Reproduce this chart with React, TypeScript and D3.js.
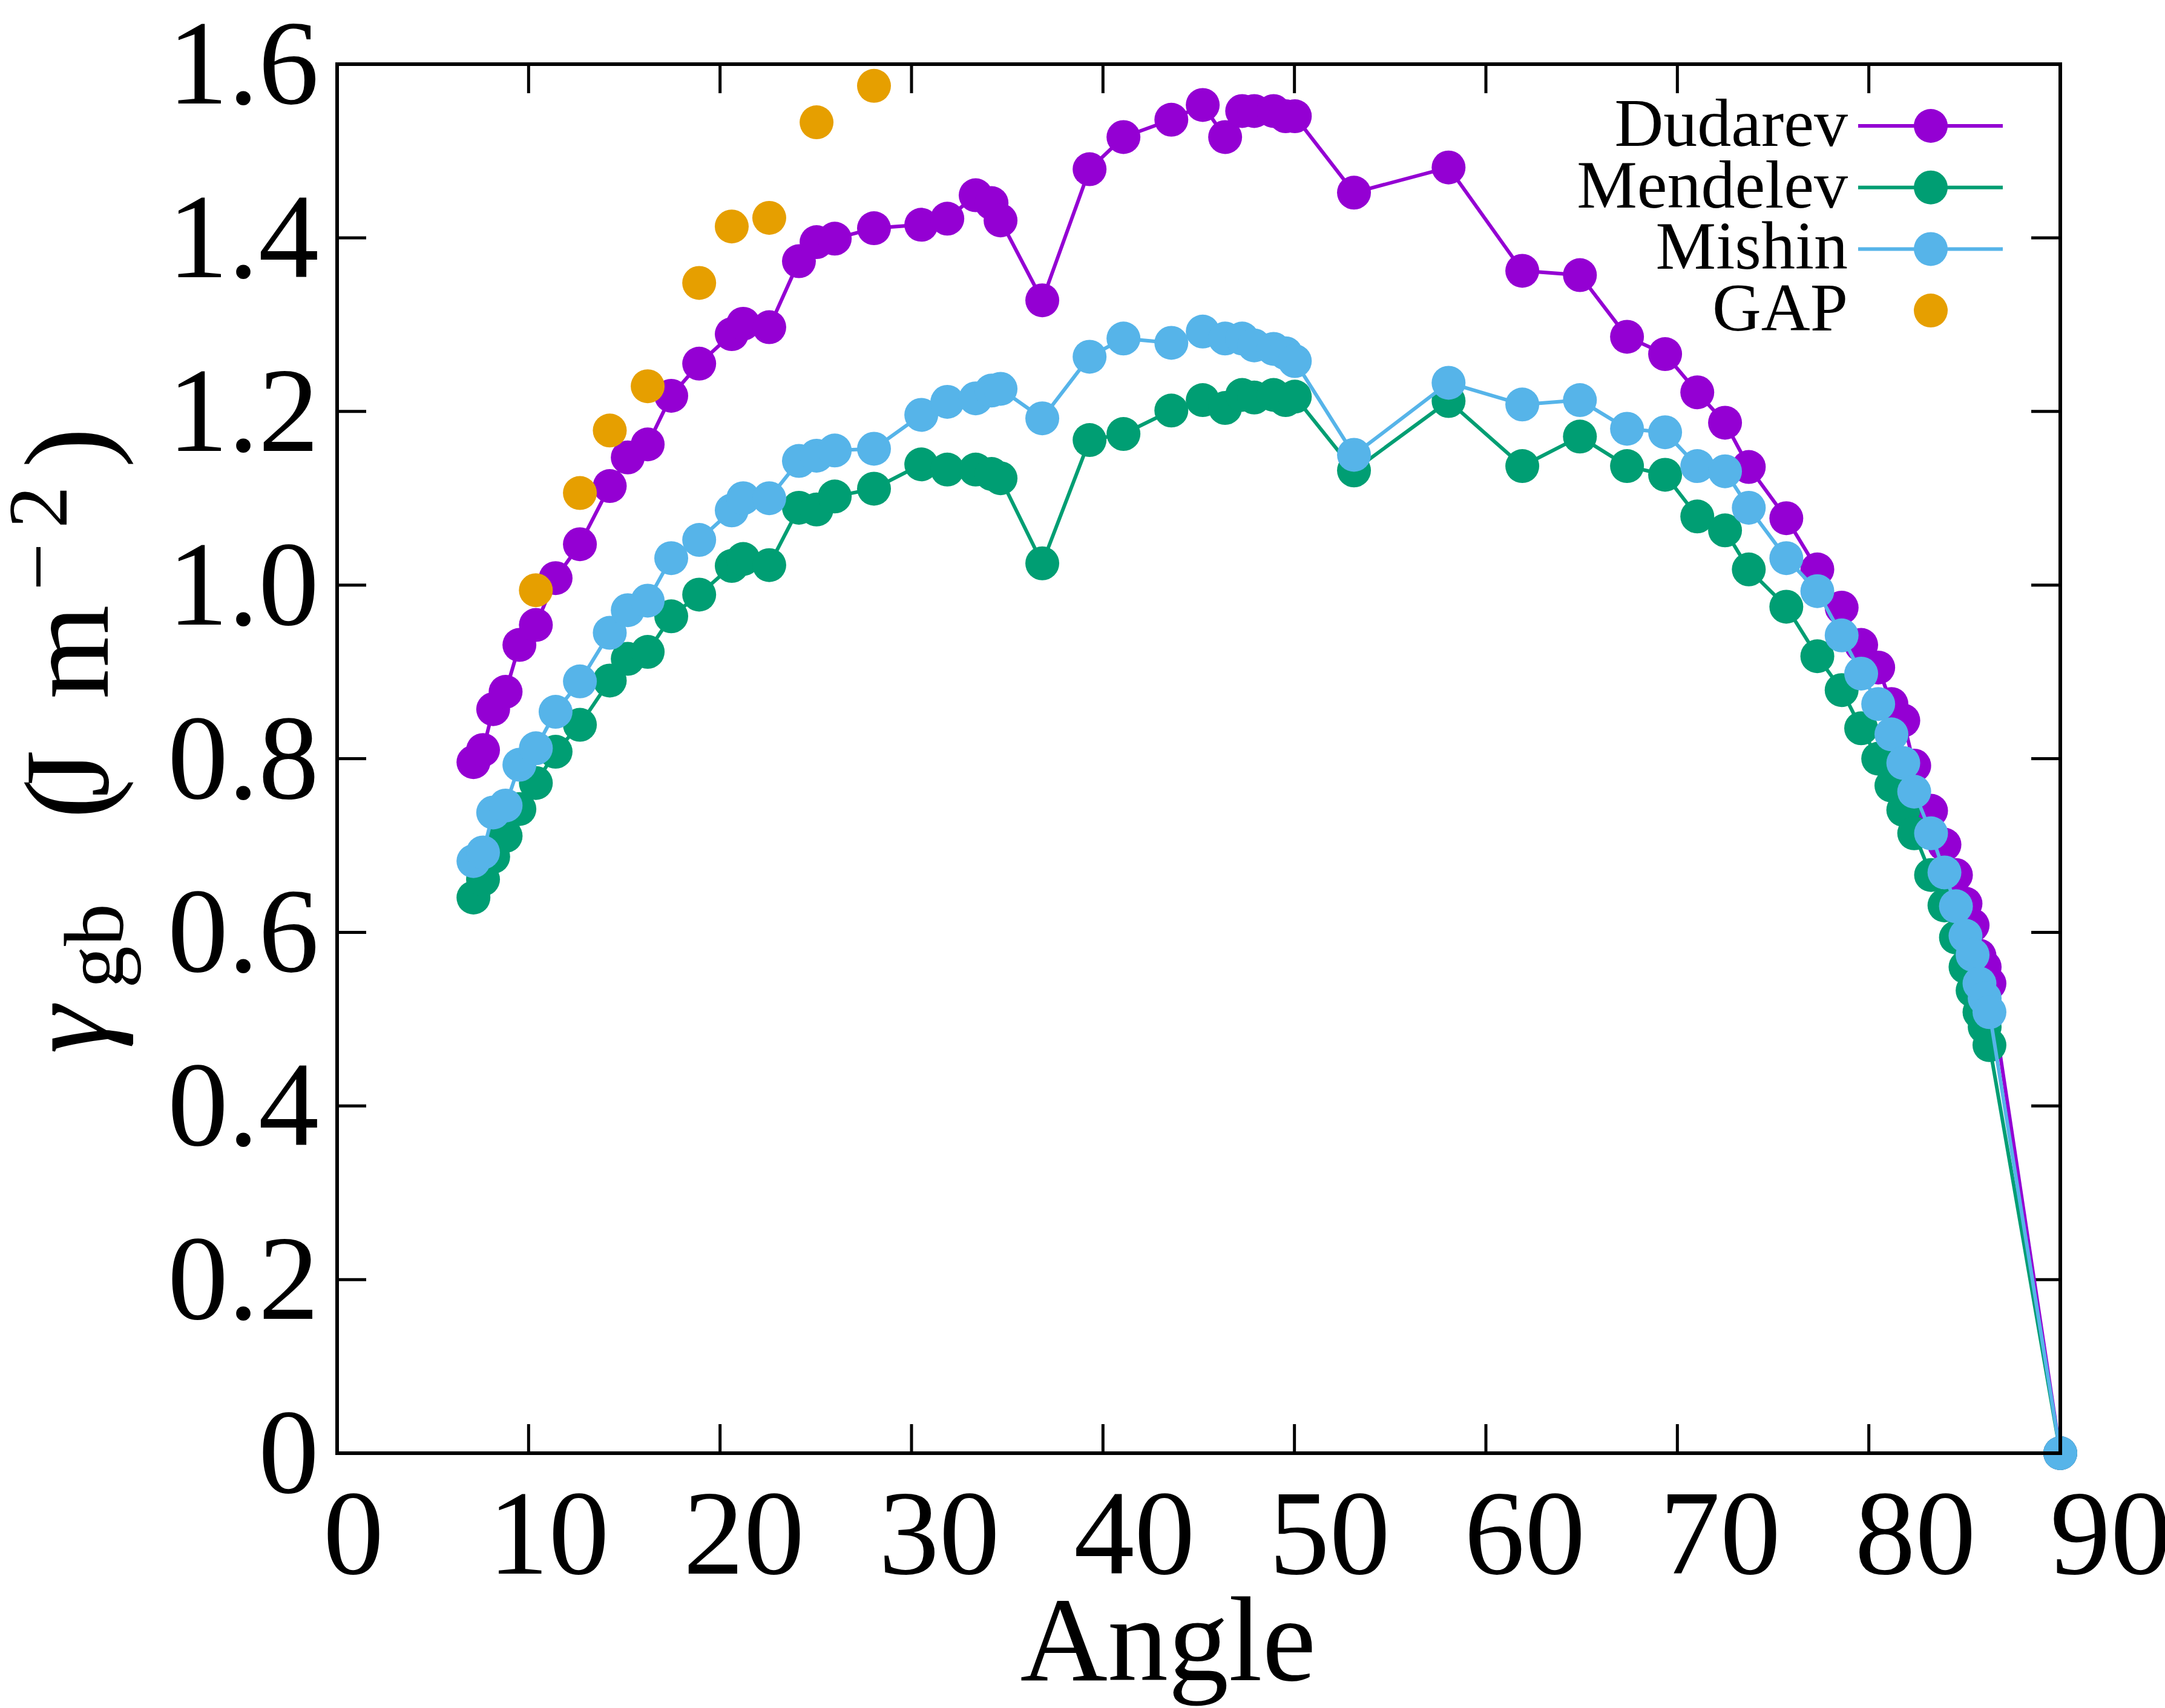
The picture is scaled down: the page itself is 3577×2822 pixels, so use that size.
import React, { useEffect } from "react";
import * as d3 from "d3";

// ---- data ----
const angles = [
  7.12, 7.62, 8.15, 8.8, 9.52, 10.38, 11.41, 12.68, 14.24, 15.18, 16.22, 17.45, 18.91, 20.61, 21.21,
  22.57, 24.12, 25.04, 25.99, 28.04, 30.51, 31.87, 33.35, 34.18, 34.65, 36.83, 39.3, 41.07, 43.57,
  45.21, 46.38, 47.27, 47.9, 48.91, 49.54, 50.02, 53.11, 58.05, 61.9, 64.91, 67.37, 69.36, 71.04,
  72.49, 73.73, 75.69, 77.31, 78.58, 79.6, 80.49, 81.18, 81.8, 82.37, 83.25, 83.95, 84.55, 85.05,
  85.42, 85.78, 86.05, 86.3, 90,
];

const dudarev = [
  0.796, 0.81, 0.857, 0.877, 0.931, 0.954, 1.008, 1.047, 1.114, 1.147, 1.162, 1.218, 1.255, 1.289, 1.301,
  1.297, 1.373, 1.395, 1.399, 1.411, 1.415, 1.422, 1.449, 1.44, 1.42, 1.328, 1.479, 1.516, 1.536,
  1.553, 1.516, 1.546, 1.546, 1.546, 1.54, 1.54, 1.452, 1.481, 1.362, 1.357, 1.286, 1.266, 1.222,
  1.187, 1.136, 1.077, 1.018, 0.974, 0.931, 0.905, 0.863, 0.844, 0.792, 0.74, 0.701, 0.666, 0.633,
  0.608, 0.573, 0.56, 0.541, 0,
];

const mendelev = [
  0.64, 0.661, 0.687, 0.711, 0.742, 0.772, 0.808, 0.839, 0.89, 0.915, 0.923, 0.964, 0.989, 1.022, 1.03,
  1.023, 1.089, 1.087, 1.102, 1.111, 1.139, 1.133, 1.133, 1.128, 1.123, 1.025, 1.167, 1.174, 1.201,
  1.213, 1.204, 1.219, 1.216, 1.219, 1.213, 1.217, 1.132, 1.212, 1.137, 1.171, 1.137, 1.127, 1.079,
  1.063, 1.018, 0.975, 0.918, 0.879, 0.835, 0.8, 0.769, 0.741, 0.714, 0.666, 0.631, 0.594, 0.56,
  0.533, 0.508, 0.491, 0.47, 0,
];

const mishin = [
  0.682, 0.692, 0.738, 0.746, 0.793, 0.812, 0.854, 0.889, 0.945, 0.971, 0.982, 1.031, 1.052, 1.086, 1.1,
  1.1, 1.143, 1.149, 1.155, 1.157, 1.196, 1.211, 1.215, 1.224, 1.226, 1.192, 1.263, 1.284, 1.279,
  1.292, 1.284, 1.284, 1.276, 1.272, 1.267, 1.258, 1.15, 1.233, 1.208, 1.213, 1.18, 1.176, 1.137,
  1.131, 1.089, 1.031, 0.993, 0.942, 0.898, 0.863, 0.828, 0.795, 0.762, 0.714, 0.669, 0.63, 0.596,
  0.574, 0.541, 0.524, 0.508, 0,
];

const gapAngles = [10.38, 12.68, 14.24, 16.22, 18.91, 20.61, 22.57, 25.04, 28.04];
const gapValues = [0.994, 1.106, 1.178, 1.229, 1.348, 1.413, 1.423, 1.533, 1.575];

const xTicks = [0, 10, 20, 30, 40, 50, 60, 70, 80, 90];
const yTicks = [0, 0.2, 0.4, 0.6, 0.8, 1.0, 1.2, 1.4, 1.6];
const yTickLabels = ["0", "0.2", "0.4", "0.6", "0.8", "1.0", "1.2", "1.4", "1.6"];

const seriesNames = ["Dudarev", "Mendelev", "Mishin", "GAP"];
const seriesColors = ["#9400D3", "#009E73", "#56B4E9", "#E69F00"];

// ---- layout ----
const W = 3577;
const H = 2822;
const PL = 557, PR = 3404, PT = 106, PB = 2401;
const FONT = "'Liberation Serif', 'DejaVu Serif', serif";
const R = 28;
const LW = 6;
const TICK = 48;

export default function App() {
  useEffect(() => {
    document.body.style.margin = "0";
  }, []);

  const x = d3.scaleLinear().domain([0, 90]).range([PL, PR]);
  const y = d3.scaleLinear().domain([0, 1.6]).range([PB, PT]);
  // tick labels in the reference are spread slightly wider than the ticks
  const xLab = d3.scaleLinear().domain([0, 90]).range([584, 3487]);

  const line = d3
    .line<[number, number]>()
    .x((d) => x(d[0]))
    .y((d) => y(d[1]));

  const lineSeries = [dudarev, mendelev, mishin].map((vals, i) => ({
    name: seriesNames[i],
    color: seriesColors[i],
    pts: angles.map((a, j) => [a, vals[j]] as [number, number]),
  }));
  const gapPts = gapAngles.map((a, j) => [a, gapValues[j]] as [number, number]);

  const legendY = (i: number) => 208 + i * 101.7;

  return (
    <svg width={W} height={H} style={{ display: "block", background: "#fff" }} fontFamily={FONT}>
      <rect x={0} y={0} width={W} height={H} fill="#fff" />

      {/* ticks */}
      <g stroke="#000" strokeWidth={5}>
        {xTicks.map((t) => (
          <g key={"xt" + t}>
            <line x1={x(t)} x2={x(t)} y1={PB} y2={PB - TICK} />
            <line x1={x(t)} x2={x(t)} y1={PT} y2={PT + TICK} />
          </g>
        ))}
        {yTicks.map((t) => (
          <g key={"yt" + t}>
            <line x1={PL} x2={PL + TICK} y1={y(t)} y2={y(t)} />
            <line x1={PR} x2={PR - TICK} y1={y(t)} y2={y(t)} />
          </g>
        ))}
      </g>

      {/* series */}
      {lineSeries.map((s) => (
        <g key={s.name}>
          <path d={line(s.pts) || ""} fill="none" stroke={s.color} strokeWidth={LW} strokeLinejoin="round" />
          {s.pts.map((p, j) => (
            <circle key={j} cx={x(p[0])} cy={y(p[1])} r={R} fill={s.color} />
          ))}
        </g>
      ))}
      <g>
        {gapPts.map((p, j) => (
          <circle key={j} cx={x(p[0])} cy={y(p[1])} r={R} fill={seriesColors[3]} />
        ))}
      </g>

      {/* frame */}
      <rect x={PL} y={PT} width={PR - PL} height={PB - PT} fill="none" stroke="#000" strokeWidth={6} />

      {/* tick labels */}
      <g fontSize={200} fill="#000">
        {xTicks.map((t) => (
          <text key={"xl" + t} x={xLab(t)} y={2600} textAnchor="middle">
            {String(t)}
          </text>
        ))}
        {yTicks.map((t, i) => (
          <text key={"yl" + t} x={527} y={y(t) + 65} textAnchor="end">
            {yTickLabels[i]}
          </text>
        ))}
      </g>

      {/* axis titles */}
      <text x={1930} y={2776} fontSize={200} textAnchor="middle" fill="#000">
        Angle
      </text>
      <g transform="translate(178,1741) rotate(-90)" fill="#000">
        <text x={0} y={0} fontSize={200} fontStyle="italic">γ</text>
        <text x={108} y={25} fontSize={140}>gb</text>
        <text x={388} y={0} fontSize={200}>(</text>
        <text x={424} y={0} fontSize={200}>J</text>
        <text x={586} y={0} fontSize={200}>m</text>
        <text x={765} y={-68} fontSize={140}>−</text>
        <text x={868} y={-68} fontSize={140}>2</text>
        <text x={968} y={0} fontSize={200}>)</text>
      </g>

      {/* legend */}
      <g>
        {seriesNames.map((n, i) => (
          <g key={"lg" + n}>
            <text x={3053} y={legendY(i) + 33} fontSize={112} textAnchor="end" fill="#000">
              {n}
            </text>
            {i < 3 && (
              <line x1={3070} x2={3309} y1={legendY(i)} y2={legendY(i)} stroke={seriesColors[i]} strokeWidth={LW} />
            )}
            <circle cx={3190} cy={legendY(i)} r={R} fill={seriesColors[i]} />
          </g>
        ))}
      </g>
    </svg>
  );
}
